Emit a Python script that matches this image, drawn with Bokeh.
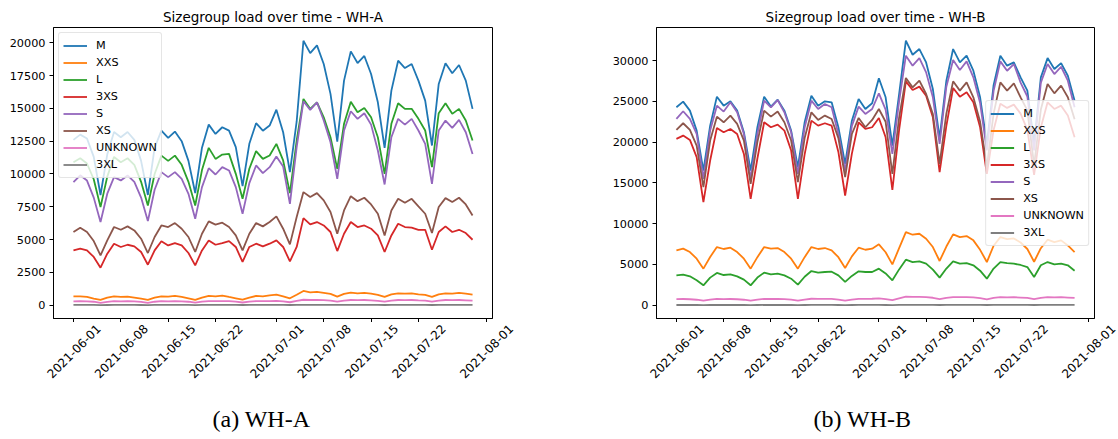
import math
import pandas as pd
from bokeh.plotting import figure
from bokeh.layouts import row, column
from bokeh.models import (Range1d, FixedTicker, NumeralTickFormatter, DatetimeTickFormatter,
                          DatetimeAxis, Title)
from bokeh.embed import file_html
from bokeh.resources import INLINE

# ---------------- data ----------------
DATES = pd.date_range("2021-06-01", "2021-07-30", freq="D")
SIZES = ["M", "XXS", "L", "3XS", "S", "XS", "UNKNOWN", "3XL"]
COLORS = ["#1f77b4", "#ff7f0e", "#2ca02c", "#d62728", "#9467bd", "#8c564b", "#e377c2", "#7f7f7f"]
XTICK_DATES = ["2021-06-01", "2021-06-08", "2021-06-15", "2021-06-22", "2021-07-01",
               "2021-07-08", "2021-07-15", "2021-07-22", "2021-08-01"]
YTICKS_A = [0, 2500, 5000, 7500, 10000, 12500, 15000, 17500, 20000]
YTICKS_B = [0, 5000, 10000, 15000, 20000, 25000, 30000]

# WH-A
M_A = [12600, 13000, 12700, 11300, 8400, 11500, 13200, 12800, 13200, 12600, 11000, 8400, 12000, 13300, 12750,
       13230, 12500, 11000, 8550, 12000, 13760, 13050, 13560, 13300, 12040, 9080, 12300, 13870, 13300, 13690,
       14900, 13180, 10140, 14000, 20150, 19210, 19800, 18380, 16100, 12470, 17110, 19340, 18450, 18990, 17620,
       15460, 11990, 16350, 18630, 18070, 18380, 17110, 15590, 12170, 16860, 18430, 17670, 18300, 17110, 14960]
XXS_A = [684, 684, 633, 507, 406, 583, 684, 633, 659, 583, 507, 406, 583, 684, 659,
         710, 633, 532, 406, 583, 710, 684, 735, 633, 532, 431, 583, 710, 684, 760,
         811, 684, 532, 800, 1090, 989, 1014, 938, 862, 660, 862, 963, 912, 938, 887,
         786, 633, 836, 912, 887, 912, 836, 786, 633, 836, 912, 887, 938, 887, 811]
L_A = [10900, 11200, 10800, 9600, 7480, 9800, 11300, 10900, 11200, 10700, 9400, 7600, 10000, 11400, 11000,
       11400, 10700, 9400, 7600, 10300, 11990, 11150, 11480, 11530, 10010, 8110, 10400, 11740, 11150, 11410,
       12290, 11030, 8540, 12550, 15720, 14960, 15460, 14320, 12800, 10390, 13820, 15510, 14700, 15030, 14320,
       12800, 10010, 13820, 15390, 14960, 14960, 14200, 13310, 10520, 14630, 15390, 14580, 14960, 14070, 12550]
XS3_A = [4180, 4310, 4180, 3680, 2860, 3930, 4690, 4440, 4610, 4490, 4060, 3090, 4180, 4870, 4560,
         4740, 4560, 3980, 3040, 4180, 4940, 4610, 4740, 4890, 4440, 3300, 4440, 4690, 4490, 4690,
         4940, 4440, 3350, 4440, 6640, 6160, 6340, 6080, 5580, 4130, 5450, 6340, 5960, 6080, 5830,
         5320, 4060, 5320, 6210, 5960, 5910, 5750, 5750, 4230, 5580, 6010, 5580, 5750, 5500, 4990]
S_A = [9380, 9900, 9500, 8200, 6340, 8500, 9760, 9510, 9890, 9400, 8200, 6410, 8800, 10140, 9760,
       10140, 9630, 8490, 6590, 9000, 10440, 9960, 10520, 10270, 9000, 6970, 9300, 10650, 10060, 10520,
       11330, 10570, 7730, 12040, 15540, 14880, 15460, 14070, 12420, 9630, 13310, 14780, 14200, 14630, 13760,
       11790, 9200, 12800, 14200, 13760, 14200, 13310, 12290, 9250, 13310, 14070, 13510, 14120, 13180, 11530]
XS_A = [5580, 5910, 5580, 4890, 3800, 4940, 5960, 5750, 6010, 5700, 5070, 3980, 5200, 6080, 5960,
        6260, 5830, 5200, 4060, 5450, 6390, 6140, 6290, 5960, 5320, 4180, 5450, 6260, 6010, 6340,
        6770, 5830, 4640, 6720, 8620, 8240, 8540, 7990, 7100, 5450, 7220, 8310, 7930, 8190, 7680,
        6970, 5320, 7220, 8110, 7810, 8110, 7530, 6970, 5500, 7480, 8160, 7860, 8190, 7680, 6840]
UNK_A = [300, 310, 300, 270, 190, 260, 310, 300, 310, 290, 260, 190, 270, 310, 300,
         310, 300, 270, 200, 280, 320, 310, 320, 310, 280, 210, 280, 320, 310, 320,
         340, 300, 230, 330, 420, 400, 410, 390, 360, 270, 360, 400, 390, 400, 380,
         340, 270, 360, 400, 390, 400, 370, 350, 270, 360, 400, 390, 400, 380, 350]
XL3_A = [25, 26, 25, 23, 18, 22, 26, 25, 26, 24, 22, 18, 23, 26, 25,
         26, 25, 23, 18, 23, 27, 26, 27, 26, 23, 19, 23, 27, 26, 27,
         28, 25, 20, 27, 34, 33, 34, 32, 30, 23, 30, 33, 32, 33, 31,
         28, 22, 30, 33, 32, 33, 31, 29, 22, 30, 33, 32, 33, 31, 29]

# WH-B
M_B = [24280, 24970, 23870, 21420, 16520, 22030, 25580, 24480, 25010, 23870, 21220, 16520, 21830, 25580, 24360,
       25210, 23870, 21420, 16930, 22440, 25700, 24480, 25010, 24890, 21830, 17340, 22640, 25300, 24070, 24770,
       27830, 25500, 19580, 25900, 32440, 30720, 31420, 29780, 26520, 20500, 27540, 31420, 29780, 30600, 28760,
       25500, 19800, 27000, 30600, 29380, 29780, 27950, 26320, 19800, 27950, 30310, 28970, 29700, 28150, 25090]
XXS_B = [6730, 6940, 6530, 5710, 4490, 5920, 7140, 6900, 7060, 6530, 5710, 4490, 5900, 7140, 6940,
         7020, 6530, 5710, 4490, 5900, 7140, 6900, 7020, 6730, 5900, 4570, 6000, 7060, 6810, 6940,
         7470, 6500, 5020, 7000, 8980, 8650, 8770, 8160, 7140, 5430, 7200, 8690, 8360, 8490, 7960,
         6800, 5300, 7300, 8360, 8100, 8200, 7700, 6900, 5340, 7000, 8040, 7750, 7960, 7340, 6530]
L_B = [3670, 3750, 3550, 3060, 2450, 3390, 3960, 3710, 3790, 3550, 3140, 2450, 3400, 4000, 3790,
       3880, 3670, 3260, 2530, 3500, 4200, 4000, 4080, 4120, 3670, 2860, 3600, 4160, 4080, 4080,
       4490, 3900, 3060, 4400, 5590, 5300, 5390, 5100, 4370, 3390, 4500, 5390, 5100, 5180, 4900,
       4240, 3260, 4500, 5300, 5180, 5100, 4940, 4690, 3470, 4900, 5300, 5020, 5100, 4900, 4240]
XS3_B = [20400, 20810, 20280, 18160, 12650, 17750, 21750, 21220, 21620, 21010, 18560, 13060, 18000, 22440, 21830,
         22150, 21420, 18970, 13060, 18500, 22640, 22030, 22320, 22030, 18800, 13460, 18600, 22440, 21620, 21830,
         22970, 20600, 14160, 21500, 27460, 26400, 26810, 25700, 23050, 16320, 22000, 26640, 25580, 26110, 24890,
         21830, 16100, 21500, 24700, 24200, 24600, 23500, 21500, 16000, 21800, 24890, 24070, 24480, 23260, 20600]
S_B = [22850, 23790, 22850, 21010, 15500, 21420, 24480, 23750, 24890, 23660, 21010, 15500, 21000, 25090, 24280,
       25170, 23660, 21220, 16120, 21800, 25090, 24070, 24680, 24280, 21000, 16500, 22000, 24360, 23460, 24070,
       25990, 24000, 18560, 25000, 30600, 29380, 30310, 28560, 25500, 19790, 26800, 30070, 28850, 29910, 27950,
       24800, 19000, 26300, 29910, 28760, 29580, 27300, 25600, 19000, 27300, 29580, 28350, 29250, 27540, 24280]
XS_B = [21500, 22320, 21500, 19580, 14480, 20200, 23130, 22440, 23260, 22240, 20200, 14890, 20000, 23870, 23130,
        23750, 22440, 20200, 15100, 20500, 23660, 22730, 23260, 22850, 20500, 15710, 21000, 22970, 21830, 22730,
        24070, 22500, 16120, 23000, 27870, 26720, 27540, 25910, 23460, 17340, 23500, 27460, 26320, 27340, 25500,
        22500, 17000, 23500, 27340, 26320, 27210, 25500, 23900, 17200, 24000, 27130, 25990, 26930, 25500, 22800]
UNK_B = [760, 770, 740, 680, 560, 680, 780, 760, 770, 740, 680, 560, 690, 790, 770,
         780, 760, 690, 570, 700, 800, 780, 790, 780, 700, 580, 700, 790, 780, 800,
         840, 760, 620, 850, 1050, 1030, 1040, 1000, 920, 740, 900, 1010, 990, 1000, 960,
         880, 730, 900, 990, 970, 990, 950, 900, 740, 900, 990, 970, 990, 950, 900]
XL3_B = [35, 36, 35, 32, 26, 31, 37, 35, 36, 34, 31, 26, 32, 37, 35,
         36, 35, 32, 26, 32, 38, 37, 38, 37, 32, 27, 32, 38, 37, 38,
         40, 36, 29, 38, 48, 46, 47, 45, 42, 33, 42, 46, 45, 46, 44,
         40, 32, 42, 46, 45, 46, 44, 41, 32, 42, 46, 45, 46, 44, 41]

SERIES_A = [M_A, XXS_A, L_A, XS3_A, S_A, XS_A, UNK_A, XL3_A]
SERIES_B = [M_B, XXS_B, L_B, XS3_B, S_B, XS_B, UNK_B, XL3_B]

FONT = "DejaVu Sans"
TICK_FS = "11.25px"
XLAB_FS = "12px"
W = 559            # width of each panel
H_MAIN = 322       # height of the plotting part
H_LAB = 117        # height of the strip holding date labels and caption
day = pd.Timedelta(days=1)
x0 = DATES[0] - 2.95 * day
x1 = DATES[-1] + 2.95 * day
tick_ms = [pd.Timestamp(d).value / 1e6 for d in XTICK_DATES]
SHIFT_PX = 25      # moves rotated labels so that they are centred on their ticks
FMT = "%Y-%m-%d"


def make_panel(series, title, caption, yticks, ymax, legend_loc, border_left, border_right, cap_offset):
    pad = 0.05 * ymax
    p = figure(width=W, height=H_MAIN, x_axis_type="datetime", output_backend="svg",
               toolbar_location=None, x_range=Range1d(x0, x1), y_range=Range1d(-pad, ymax + pad),
               min_border_left=border_left, min_border_right=border_right,
               min_border_top=27, min_border_bottom=4)
    for name, vals, col in zip(SIZES, series, COLORS):
        p.line(DATES, vals, line_color=col, line_width=1.8, legend_label=name)

    p.title.text = title
    p.title.align = "center"
    p.title.text_font = FONT
    p.title.text_font_size = "13.5px"
    p.title.text_font_style = "normal"
    p.title.text_color = "black"
    p.title.standoff = 6

    p.xgrid.visible = False
    p.ygrid.visible = False
    p.outline_line_color = "black"
    p.outline_line_alpha = 1
    p.outline_line_width = 1
    p.background_fill_color = "white"
    p.border_fill_color = "white"

    # x axis of the plot: tick marks only (given as minor ticks, so no labels)
    p.xaxis.ticker = FixedTicker(ticks=[], minor_ticks=tick_ms)
    p.xaxis.axis_line_color = "black"
    p.xaxis.minor_tick_line_color = "black"
    p.xaxis.minor_tick_line_width = 1
    p.xaxis.minor_tick_out = 4
    p.xaxis.minor_tick_in = 0
    p.xaxis.major_tick_line_color = None
    p.xaxis.major_label_standoff = 0

    p.yaxis.ticker = FixedTicker(ticks=yticks)
    p.yaxis.formatter = NumeralTickFormatter(format="0")
    p.yaxis.major_label_text_font = FONT
    p.yaxis.major_label_text_font_size = TICK_FS
    p.yaxis.major_label_text_color = "black"
    p.yaxis.major_label_standoff = 4
    p.yaxis.axis_line_color = "black"
    p.yaxis.major_tick_line_color = "black"
    p.yaxis.major_tick_out = 4
    p.yaxis.major_tick_in = 0
    p.yaxis.minor_tick_line_color = None

    lg = p.legend[0]
    lg.location = legend_loc
    lg.label_text_font = FONT
    lg.label_text_font_size = TICK_FS
    lg.label_text_color = "black"
    lg.glyph_height = 17
    lg.label_height = 17
    lg.glyph_width = 24
    lg.label_standoff = 9
    lg.spacing = 0
    lg.padding = 4
    lg.margin = 5
    lg.border_line_color = "#cccccc"
    lg.border_line_width = 1
    lg.background_fill_color = "white"
    lg.background_fill_alpha = 0.8
    try:
        lg.border_radius = 3
    except Exception:
        pass

    # strip below: same time scale as the plot, wider, holding the rotated date labels
    frame_w = W - border_left - border_right
    px_per_day = frame_w / ((x1 - x0) / day)
    ls = x0 - (border_left + SHIFT_PX) / px_per_day * day
    le = ls + W / px_per_day * day
    q = figure(width=W, height=H_LAB, x_axis_type=None, y_axis_type=None, output_backend="svg",
               toolbar_location=None, x_range=Range1d(ls, le), y_range=Range1d(0, 1),
               min_border_left=0, min_border_right=0, min_border_top=0, min_border_bottom=H_LAB - 1)
    try:
        q.frame_align = False
    except Exception:
        pass
    q.outline_line_color = None
    q.background_fill_color = "white"
    q.border_fill_color = "white"
    lab_axis = DatetimeAxis(ticker=FixedTicker(ticks=tick_ms),
                            formatter=DatetimeTickFormatter(milliseconds=FMT, seconds=FMT, minsec=FMT,
                                                            minutes=FMT, hourmin=FMT, hours=FMT,
                                                            days=FMT, months=FMT, years=FMT),
                            major_label_orientation=math.pi / 4, major_tick_out=0, major_tick_in=0,
                            minor_tick_line_color=None, major_tick_line_color=None,
                            axis_line_color=None, major_label_standoff=4,
                            major_label_text_font=FONT, major_label_text_font_size=XLAB_FS,
                            major_label_text_color="black")
    q.add_layout(lab_axis, "below")
    cap = Title(text=caption, align="left", offset=cap_offset, text_font="Liberation Serif",
                text_font_size="24px", text_font_style="normal", text_color="black", standoff=37)
    q.add_layout(cap, "below")
    return column(p, q, spacing=0)


c1 = make_panel(SERIES_A, "Sizegroup load over time - WH-A", "(a) WH-A", YTICKS_A, max(M_A),
                "top_left", 53, 67, 212)
c2 = make_panel(SERIES_B, "Sizegroup load over time - WH-B", "(b) WH-B", YTICKS_B, max(M_B),
                "center_right", 97, 24, 254)

layout = row(c1, c2, spacing=0)
open("out.html", "w").write(file_html(layout, INLINE))
